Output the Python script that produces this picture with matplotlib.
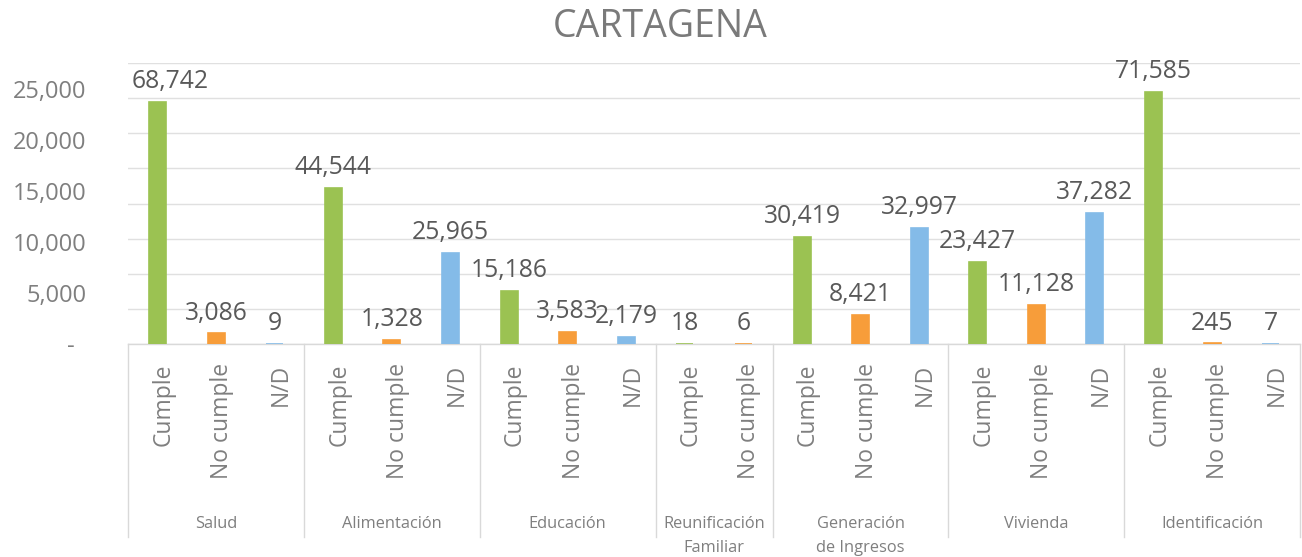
import matplotlib
matplotlib.use("Agg")
import matplotlib.pyplot as plt
import matplotlib.transforms as mtransforms

plt.rcParams['font.family'] = ['Open Sans', 'DejaVu Sans']

# ---- data ----
title = "CARTAGENA"
groups = ['Salud', 'Alimentación', 'Educación', 'Reunificación\nFamiliar',
          'Generación\nde Ingresos', 'Vivienda', 'Identificación']
sub_labels = [
    ['Cumple', 'No cumple', 'N/D'],
    ['Cumple', 'No cumple', 'N/D'],
    ['Cumple', 'No cumple', 'N/D'],
    ['Cumple', 'No cumple'],
    ['Cumple', 'No cumple', 'N/D'],
    ['Cumple', 'No cumple', 'N/D'],
    ['Cumple', 'No cumple', 'N/D'],
]
values = [
    [68742, 3086, 9],
    [44544, 1328, 25965],
    [15186, 3583, 2179],
    [18, 6],
    [30419, 8421, 32997],
    [23427, 11128, 37282],
    [71585, 245, 7],
]
ytick_values = [0, 5000, 10000, 15000, 20000, 25000]
ytick_labels = ['-  ', '5,000', '10,000', '15,000', '20,000', '25,000']

colors = {'Cumple': '#9BC252', 'No cumple': '#F79D3A', 'N/D': '#84BBE8'}

W, H = 1302, 557
fig = plt.figure(figsize=(W / 100, H / 100), dpi=100)
left_px, right_px, top_px, base_px = 128.3, 1300, 62.7, 344.3
ax = fig.add_axes([left_px / W, 1 - base_px / H, (right_px - left_px) / W, (base_px - top_px) / H])

# positions
xs, vals, labs = [], [], []
bounds = [0]
pos = 0
for g, (sl, vl) in enumerate(zip(sub_labels, values)):
    for s, v in zip(sl, vl):
        xs.append(pos)
        vals.append(v)
        labs.append(s)
        pos += 1
    bounds.append(pos)
n = pos

bar_cols = [colors[l] for l in labs]
ax.bar(xs, vals, width=0.29, color=bar_cols, edgecolor=bar_cols, linewidth=1.2, zorder=3)

ax.set_xlim(-0.5, n - 0.5)
ax.set_ylim(0, 80000)
ax.set_yticks(range(0, 80001, 10000))
ax.yaxis.grid(True, color='#E0E0E0', linewidth=1.0, zorder=0)
ax.set_yticklabels([])
ax.tick_params(axis='y', length=0)
ax.set_xticks([])
for sp in ['top', 'right', 'left']:
    ax.spines[sp].set_visible(False)
ax.spines['bottom'].set_color('#D9D9D9')
ax.spines['bottom'].set_linewidth(1.0)

# data labels
anns = []
for x, v in zip(xs, vals):
    a = ax.annotate(f"{v:,}", (x, v), xytext=(0, 10), textcoords='offset points',
                    ha='center', va='baseline', fontsize=17.8, color='#595959', zorder=4)
    anns.append(a)

# left label axis (different scale as in reference)
ax2 = ax.twinx()
ax2.set_ylim(0, 27575)
ax2.yaxis.tick_left()
ax2.set_yticks(ytick_values)
ax2.set_yticklabels(ytick_labels, fontsize=17, color='#7F7F7F')
ax2.tick_params(axis='y', length=0, pad=30)
for sp in ax2.spines.values():
    sp.set_visible(False)
ax2.set_xticks([])

# category labels
px = 1.0 / (base_px - top_px)  # axes fraction per pixel
trans = ax.get_xaxis_transform()
for x, l in zip(xs, labs):
    t = ax.text(x, 0, l, rotation=90, ha='center', va='top', fontsize=16.5,
                color='#7F7F7F', transform=trans)
    t.set_transform(trans + mtransforms.ScaledTranslation(6 / 100, -19 / 100, fig.dpi_scale_trans))

for i in range(len(groups)):
    c = (bounds[i] + bounds[i + 1] - 1) / 2
    t = ax.text(c, 0, groups[i], ha='center', va='top', fontsize=11.8, color='#7F7F7F',
                linespacing=1.62, transform=trans)
    t.set_transform(trans + mtransforms.ScaledTranslation(0, -172 / 100, fig.dpi_scale_trans))

# separators
for b in bounds:
    ax.plot([b - 0.5, b - 0.5], [0, -193 * px], color='#D9D9D9', linewidth=1.0,
            transform=trans, clip_on=False)

fig.text(0.507, 1 - 27 / H, title, ha='center', va='center', fontsize=27, color='#7A7A7A')

# keep data labels inside the plot area horizontally
fig.canvas.draw()
r = fig.canvas.get_renderer()
axbb = ax.get_window_extent(r)
for a in anns:
    bb = a.get_window_extent(r)
    shift = 0
    if bb.x0 < axbb.x0 + 3:
        shift = axbb.x0 + 3 - bb.x0
    elif bb.x1 > axbb.x1:
        shift = axbb.x1 - bb.x1
    if shift:
        a.xyann = (shift * 72 / fig.dpi, 10)

fig.savefig('out.png', dpi=100)
